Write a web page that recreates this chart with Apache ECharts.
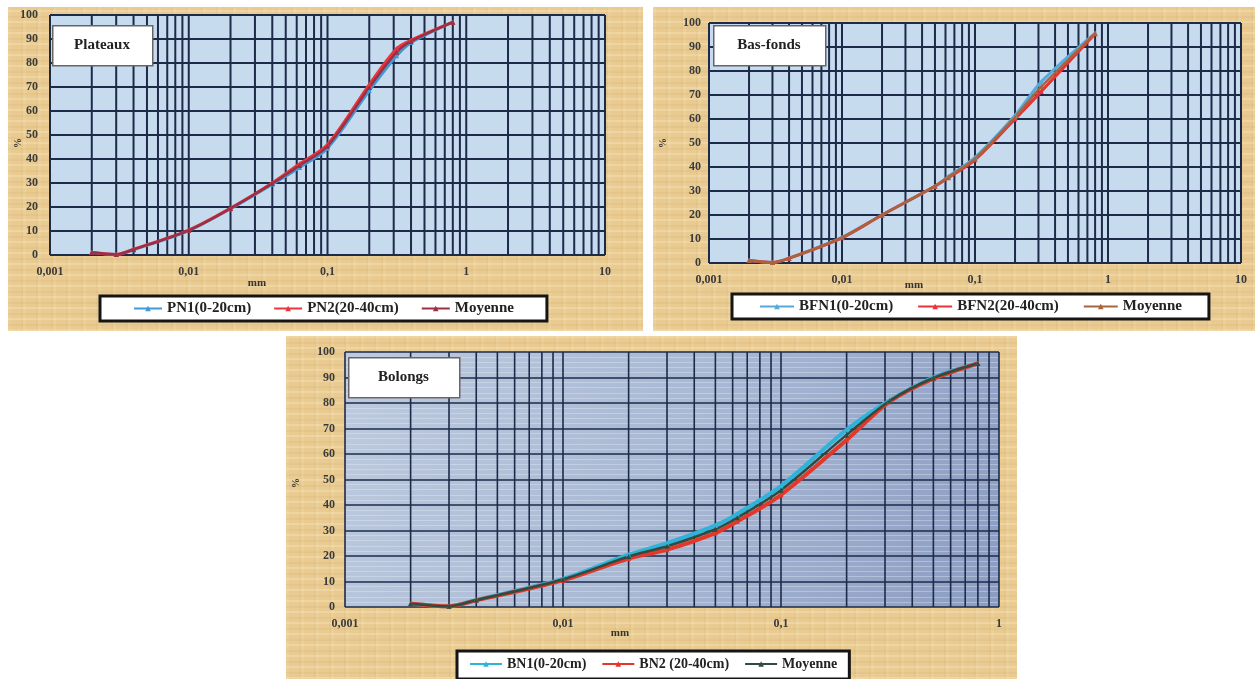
<!DOCTYPE html>
<html>
<head>
<meta charset="utf-8">
<script src="https://cdn.jsdelivr.net/npm/echarts@6/dist/echarts.min.js"></script>
<style>
body { margin:0; background:#fff; width:1255px; height:679px; overflow:hidden; position:relative; }
.panel {
	position:absolute;
	background-color:#e9cb91;
	background-image:
		repeating-linear-gradient(0deg, rgba(255,242,205,0.25) 0 2px, rgba(0,0,0,0) 2px 5px, rgba(175,125,55,0.08) 5px 7px, rgba(0,0,0,0) 7px 11px),
		repeating-linear-gradient(90deg, rgba(255,246,215,0.10) 0 3px, rgba(0,0,0,0) 3px 13px, rgba(160,110,40,0.05) 13px 15px);
}
</style>
</head>
<body>
<div id="chartPlateaux" class="panel" style="left:8px;top:7px;width:635px;height:324px"></div>
<div id="chartBasFonds" class="panel" style="left:653px;top:7px;width:602px;height:324px"></div>
<div id="chartBolongs" class="panel" style="left:286px;top:336px;width:731px;height:343px"></div>
<script>
// tailles (mm) et pourcentages cumules
var sizesPlateaux = [0.002, 0.003, 0.004, 0.01, 0.02, 0.04, 0.063, 0.1, 0.2, 0.315, 0.4, 0.8];
var pn1 = [1, 0.2, 2.2, 10.2, 19.3, 29.5, 36.5, 44.5, 68.5, 83, 88.5, 97];
var pn2 = [1, 0.2, 2.4, 10.4, 19.5, 30, 38, 46, 71, 86, 89.5, 97];
var pnMoy = [1, 0.2, 2.3, 10.3, 19.4, 29.8, 37.3, 45.3, 69.8, 84.5, 89, 97];

var sizesBasFonds = [0.002, 0.003, 0.004, 0.01, 0.02, 0.05, 0.063, 0.1, 0.2, 0.315, 0.8];
var bfn1 = [1, 0.2, 2, 10.7, 20, 32, 36, 44, 61.5, 75.5, 95.8];
var bfn2 = [1, 0.2, 2, 10.5, 20, 32, 35.5, 43, 60, 71.5, 95.5];
var bfnMoy = [1, 0.2, 2, 10.6, 20, 32, 35.8, 43.5, 60.8, 73.5, 95.6];

var sizesBolongs = [0.002, 0.003, 0.004, 0.01, 0.02, 0.03, 0.05, 0.063, 0.1, 0.2, 0.315, 0.5, 0.8];
var bn1 = [1.3, 0.3, 2.8, 11, 20.5, 25, 32, 36.5, 47.5, 69.5, 81, 90, 95.5];
var bn2 = [1.3, 0.3, 2.6, 10.5, 19, 22.5, 29, 33.5, 44, 65.5, 80.5, 89.5, 95.5];
var bnMoy = [1.3, 0.3, 2.7, 10.8, 19.8, 23.8, 30.5, 35, 45.8, 67.5, 80.8, 89.8, 95.5];

var yTicks = [0, 100, 10];

var FONT = '"Liberation Serif", "DejaVu Serif", serif';
var GRIDCOLOR = '#1d2b49';

function pairs(xs, ys) {
	var out = [];
	for (var i = 0; i < xs.length; i++) out.push([xs[i], ys[i]]);
	return out;
}

// lignes verticales 1..9 x 10^k du papier log, en segments separes par null
function logGridData(minExp, maxExp) {
	var v = [];
	for (var e = minExp; e < maxExp; e++)
		for (var k = 1; k < 10; k++) v.push(+(k * Math.pow(10, e)).toPrecision(3));
	v.push(Math.pow(10, maxExp));
	var data = [];
	v.forEach(function(x) {
		data.push([ x, yTicks[0] ], [ x, yTicks[1] ], [ x, null ]);
	});
	return data;
}

function lineSeries(name, xs, ys, color, width) {
	return {
		name : name,
		type : 'line',
		smooth : 0.3,
		z : 3,
		symbol : 'triangle',
		symbolSize : 5,
		showAllSymbol : true,
		itemStyle : { color : color },
		lineStyle : { color : color, width : width },
		data : pairs(xs, ys)
	};
}

function buildOption(cfg) {
	var series = [ {
		name : 'grille',
		type : 'line',
		silent : true,
		z : 1,
		symbol : 'none',
		connectNulls : false,
		lineStyle : { color : GRIDCOLOR, width : cfg.gridWidth },
		data : logGridData(cfg.minExp, cfg.maxExp)
	} ];
	cfg.series.forEach(function(s) {
		series.push(lineSeries(s.name, s.x, s.y, s.color, s.width || 3));
	});
	return {
		animation : false,
		backgroundColor : 'transparent',
		grid : {
			left : cfg.grid[0], top : cfg.grid[1], width : cfg.grid[2], height : cfg.grid[3],
			show : true, borderWidth : 0, backgroundColor : cfg.plotBg
		},
		xAxis : {
			type : 'log',
			logBase : 10,
			min : Math.pow(10, cfg.minExp),
			max : Math.pow(10, cfg.maxExp),
			axisLine : { show : false },
			axisTick : { show : false },
			splitLine : { show : false },
			axisLabel : {
				margin : cfg.xMargin,
				color : '#3a3a3a',
				fontFamily : FONT,
				fontWeight : 'bold',
				fontSize : 12,
				formatter : function(v) {
					return String(+(+v).toPrecision(3)).replace('.', ',');
				}
			}
		},
		yAxis : {
			type : 'value',
			min : yTicks[0],
			max : yTicks[1],
			interval : yTicks[2],
			axisLine : { show : false },
			axisTick : { show : false },
			splitLine : { lineStyle : { color : GRIDCOLOR, width : cfg.gridWidth } },
			minorTick : { show : false, splitNumber : 5 },
			minorSplitLine : cfg.minorY ? { show : true, lineStyle : { color : 'rgba(235,242,252,0.35)', width : 1 } } : { show : false },
			axisLabel : {
				margin : cfg.yMargin,
				color : '#3a3a3a',
				fontFamily : FONT,
				fontWeight : 'bold',
				fontSize : 12
			}
		},
		legend : {
			left : cfg.legend[0],
			top : cfg.legend[1],
			backgroundColor : '#fff',
			borderColor : '#151515',
			borderWidth : 3,
			borderRadius : 0,
			padding : cfg.legendPad,
			itemGap : cfg.legendGap,
			itemWidth : cfg.legendItem,
			itemHeight : 7,
			textStyle : { fontFamily : FONT, fontWeight : 'bold', fontSize : cfg.legendFont, color : '#222' },
			data : cfg.series.map(function(s) { return s.name; })
		},
		graphic : [ {
			type : 'rect',
			left : cfg.titleBox[0], top : cfg.titleBox[1],
			shape : { width : cfg.titleBox[2], height : cfg.titleBox[3] },
			style : { fill : '#fff', stroke : '#666', lineWidth : 1.5 },
			z : 50
		}, {
			type : 'text',
			x : cfg.titleBox[0] + cfg.titleBox[2] / 2,
			y : cfg.titleBox[1] + cfg.titleBox[3] / 2,
			style : { text : cfg.title, font : 'bold 15px ' + FONT, fill : '#222', textAlign : 'center', textVerticalAlign : 'middle' },
			z : 51
		}, {
			type : 'text',
			x : cfg.mm[0], y : cfg.mm[1],
			style : { text : 'mm', font : 'bold 11px ' + FONT, fill : '#333', textAlign : 'center', textVerticalAlign : 'middle' },
			z : 51
		}, {
			type : 'text',
			x : cfg.pct[0], y : cfg.pct[1],
			rotation : Math.PI / 2,
			style : { text : '%', font : 'bold 10px ' + FONT, fill : '#333', textAlign : 'center', textVerticalAlign : 'middle' },
			z : 51
		} ],
		series : series
	};
}

var impl = {
	init$plateaux : function() {
		var option = buildOption({
			minExp : -3, maxExp : 1,
			grid : [ 42, 8, 555, 240 ],
			plotBg : '#c7dbef',
			gridWidth : 2,
			xMargin : 11, yMargin : 12,
			legend : [ 92, 289 ], legendPad : [ 5, 33, 5, 33 ], legendGap : 22, legendItem : 28, legendFont : 15,
			titleBox : [ 44, 18, 100, 40 ], title : 'Plateaux',
			mm : [ 249, 276 ], pct : [ 10, 136 ],
			series : [
				{ name : 'PN1(0-20cm)', x : sizesPlateaux, y : pn1, color : '#3f9ad6' },
				{ name : 'PN2(20-40cm)', x : sizesPlateaux, y : pn2, color : '#e8363e' },
				{ name : 'Moyenne', x : sizesPlateaux, y : pnMoy, color : '#9a2f45', width : 2.5 }
			]
		});
		var myChart = echarts.init(document.getElementById('chartPlateaux'));
		myChart.setOption(option);
	},
	init$basFonds : function() {
		var option = buildOption({
			minExp : -3, maxExp : 1,
			grid : [ 56, 16, 532, 240 ],
			plotBg : '#c7dbef',
			gridWidth : 2,
			xMargin : 11, yMargin : 8,
			legend : [ 79, 287 ], legendPad : [ 5, 27, 5, 27 ], legendGap : 24, legendItem : 34, legendFont : 15,
			titleBox : [ 60, 18, 112, 40 ], title : 'Bas-fonds',
			mm : [ 261, 278 ], pct : [ 10, 136 ],
			series : [
				{ name : 'BFN1(0-20cm)', x : sizesBasFonds, y : bfn1, color : '#56a9dc' },
				{ name : 'BFN2(20-40cm)', x : sizesBasFonds, y : bfn2, color : '#e8323a' },
				{ name : 'Moyenne', x : sizesBasFonds, y : bfnMoy, color : '#a8653d', width : 2.5 }
			]
		});
		var myChart = echarts.init(document.getElementById('chartBasFonds'));
		myChart.setOption(option);
	},
	init$bolongs : function() {
		var option = buildOption({
			minExp : -3, maxExp : 0,
			grid : [ 59, 16, 654, 255 ],
			plotBg : new echarts.graphic.LinearGradient(0, 0, 1, 1, [
				{ offset : 0, color : '#bdcadf' },
				{ offset : 0.5, color : '#a9b8d3' },
				{ offset : 1, color : '#8a9cc2' }
			]),
			gridWidth : 1.6,
			minorY : true,
			xMargin : 11, yMargin : 10,
			legend : [ 171, 315 ], legendPad : [ 6, 12, 8, 12 ], legendGap : 15, legendItem : 32, legendFont : 14,
			titleBox : [ 62, 21, 111, 40 ], title : 'Bolongs',
			mm : [ 334, 297 ], pct : [ 10, 147 ],
			series : [
				{ name : 'BN1(0-20cm)', x : sizesBolongs, y : bn1, color : '#2fb3da', width : 4 },
				{ name : 'BN2 (20-40cm)', x : sizesBolongs, y : bn2, color : '#e4372a', width : 4 },
				{ name : 'Moyenne', x : sizesBolongs, y : bnMoy, color : '#2f4c3e', width : 2.5 }
			]
		});
		var myChart = echarts.init(document.getElementById('chartBolongs'));
		myChart.setOption(option);
	},
	init : function() {
		this.init$plateaux();
		this.init$basFonds();
		this.init$bolongs();
	}
};

impl.init();
</script>
</body>
</html>
